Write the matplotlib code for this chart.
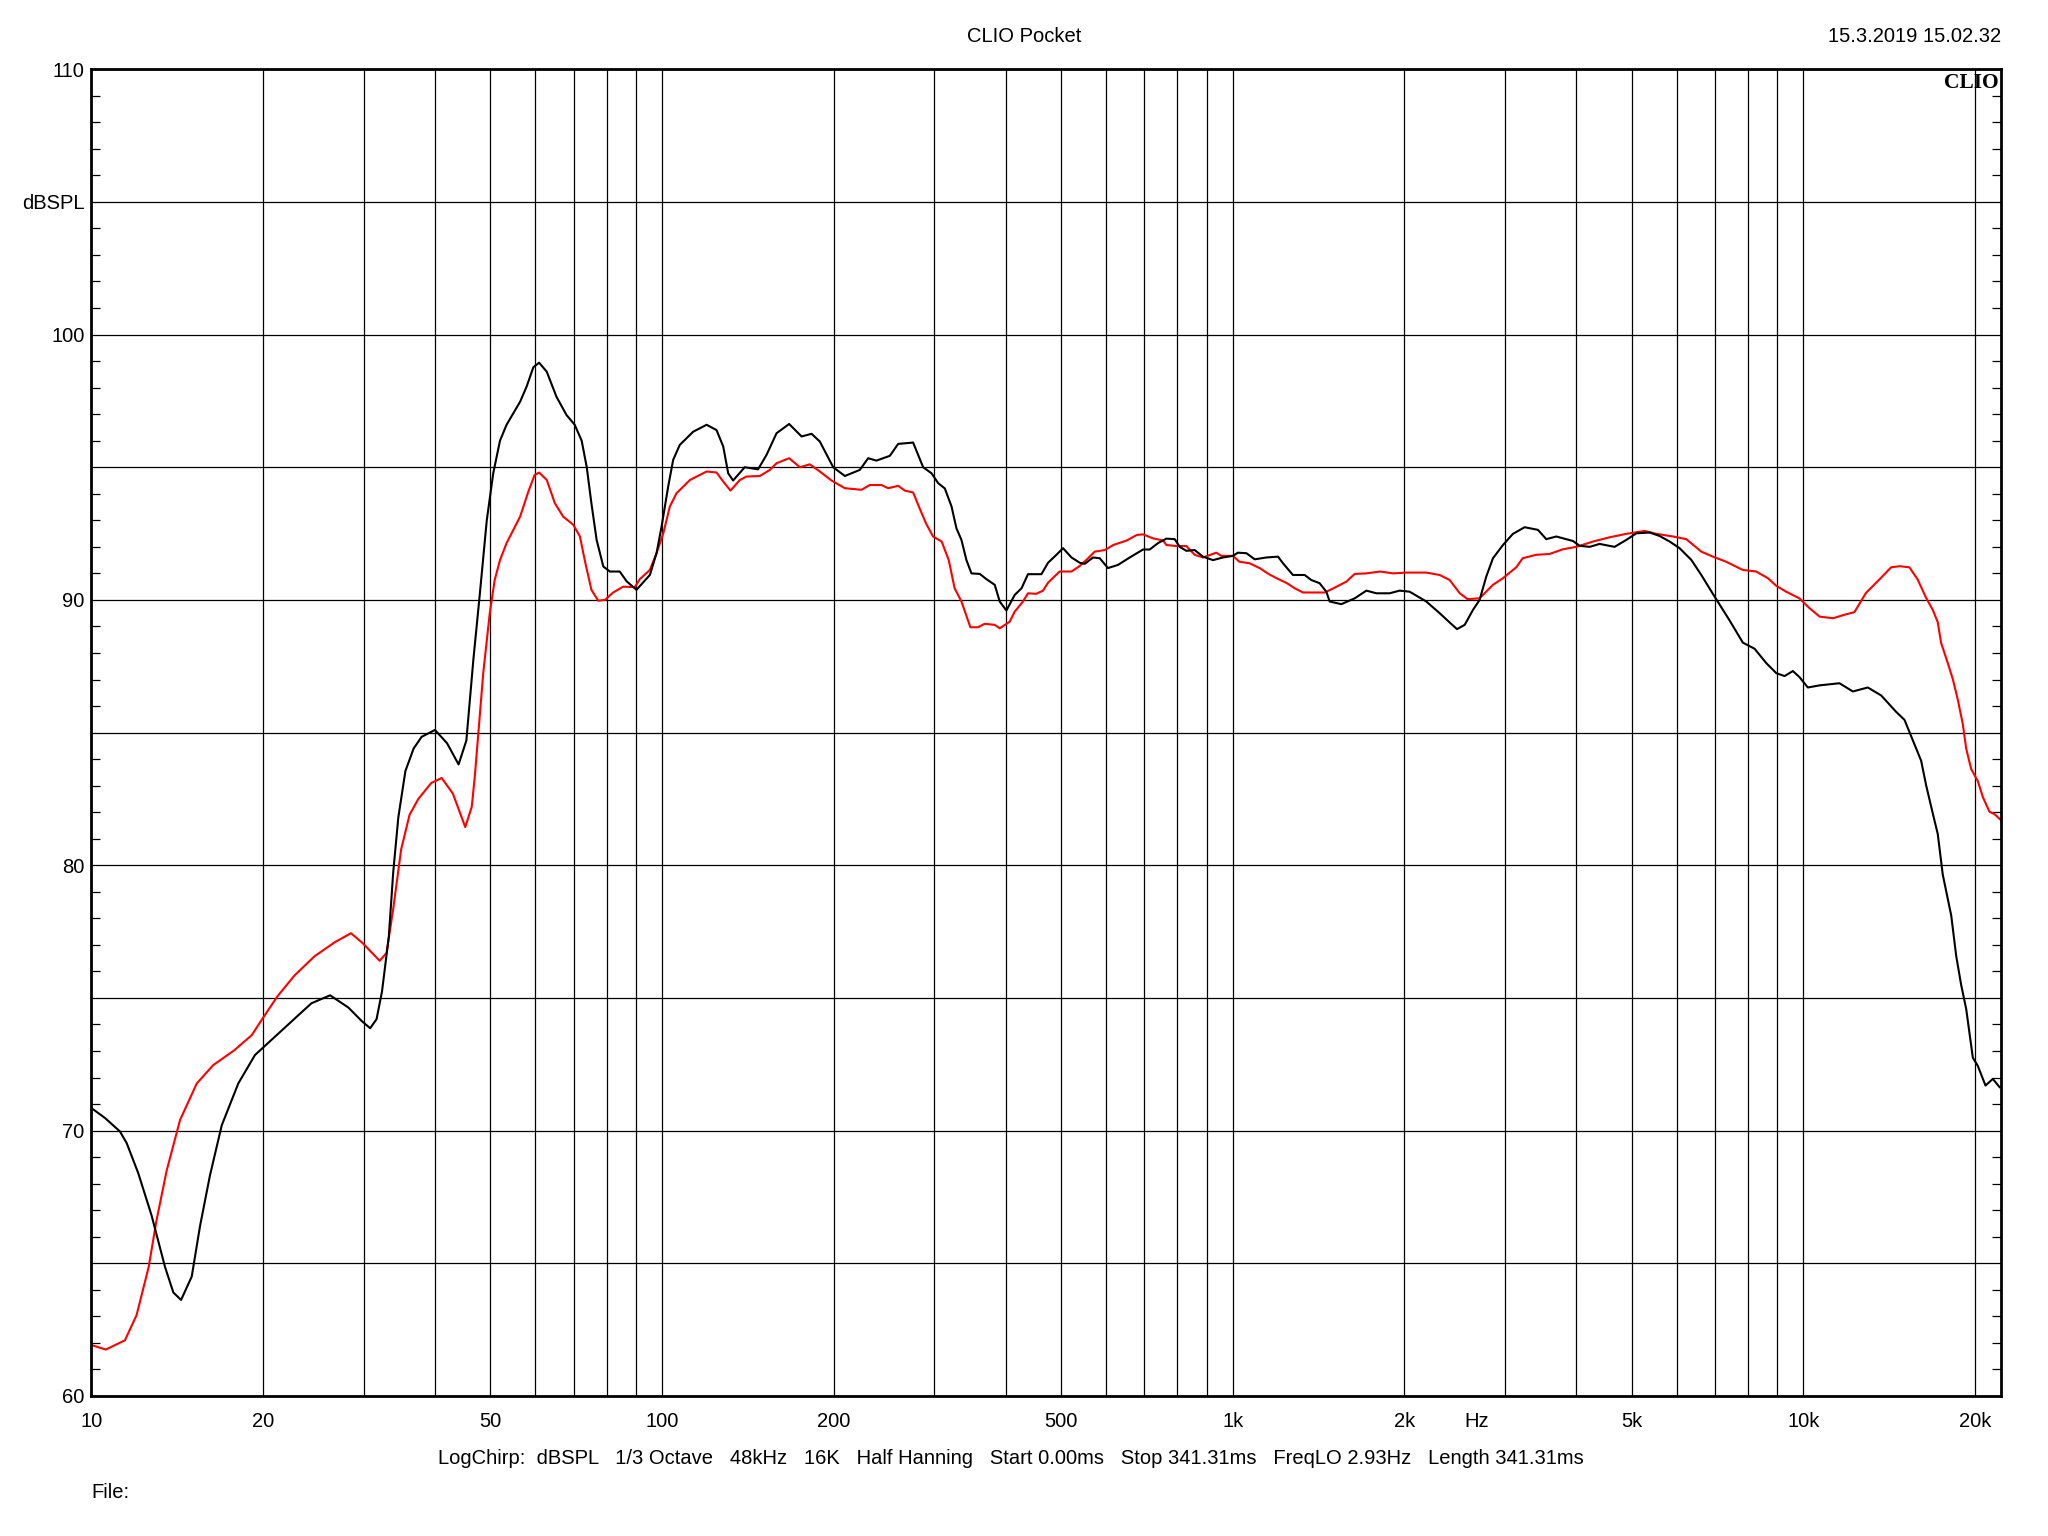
import matplotlib
matplotlib.use("Agg")
import matplotlib.pyplot as plt
from matplotlib.ticker import FixedLocator, FixedFormatter, NullFormatter

# ---------------- data ----------------
freq_black = [10.0, 10.56, 11.22, 11.53, 12.08, 12.75, 13.46, 13.92, 14.36, 14.99, 15.5, 16.13,
              16.92, 18.09, 19.35, 20.7, 22.44, 24.3, 26.2, 28.2, 29.8, 30.8, 31.6, 32.3, 33.2,
              33.8, 34.5, 35.5, 36.7, 37.9, 40.0, 42.0, 44.0, 45.4, 46.7, 47.95, 49.3, 50.6, 52.0,
              53.4, 56.4, 57.9, 59.5, 60.9, 62.8, 65.3, 68.0, 70.3, 72.3, 73.8, 75.2, 76.8, 78.9,
              81.0, 84.3, 86.7, 90.2, 95.2, 97.8, 99.8, 102.5, 104.6, 107.4, 113.4, 119.7, 124.6,
              128, 130.6, 133.2, 139.6, 147.3, 152.4, 158.7, 167, 175.6, 182.8, 189, 199.5, 209.1,
              222.1, 229.7, 237.5, 250.7, 259.3, 275.4, 286.8, 296.7, 304.7, 313, 321.6, 328, 334.7,
              341.5, 348.5, 360.4, 370.3, 382.8, 390.6, 401.3, 415, 426.6, 437.8, 462.2, 474.7, 491,
              504.3, 521.7, 539.5, 550.5, 569.2, 584.8, 604.6, 629.5, 660.1, 696.5, 715.5, 739.8,
              765.2, 791.4, 807.5, 829.5, 857.7, 887, 923.6, 961.6, 1001, 1021, 1057, 1093, 1146,
              1201, 1225, 1275, 1337, 1373, 1420, 1459, 1479, 1550, 1636, 1715, 1786, 1884, 1961,
              2042, 2184, 2305, 2400, 2472, 2550, 2636, 2708, 2782, 2858, 2976, 3098, 3248, 3427,
              3544, 3691, 3947, 4055, 4222, 4395, 4669, 4894, 5097, 5378, 5598, 5830, 6069, 6362,
              6625, 6941, 7424, 7834, 8214, 8610, 8966, 9270, 9585, 9846, 10183, 10675, 11570,
              12210, 12970, 13690, 14544, 15040, 15550, 16085, 16410, 16860, 17200, 17550, 18160,
              18530, 18900, 19290, 19550, 19815, 20218, 20855, 21480, 22070]
spl_black = [70.85, 70.48, 69.97, 69.53, 68.4, 66.8, 64.86, 63.9, 63.62, 64.5, 66.4, 68.3,
             70.2, 71.78, 72.85, 73.43, 74.12, 74.8, 75.1, 74.64, 74.12, 73.86, 74.2, 75.24, 77.3,
             79.74, 81.8, 83.55, 84.4, 84.84, 85.1, 84.6, 83.8, 84.7, 87.74, 90.25, 93.0, 94.77, 96.0,
             96.6, 97.47, 98.04, 98.77, 98.94, 98.6, 97.66, 96.97, 96.6, 96.0, 95.0, 93.64, 92.26, 91.26,
             91.07, 91.07, 90.7, 90.38, 90.94, 91.76, 92.76, 94.27, 95.28, 95.84, 96.34, 96.6, 96.4,
             95.78, 94.77, 94.5, 95.0, 94.92, 95.46, 96.28, 96.63, 96.16, 96.26, 95.97, 95.0, 94.67,
             94.9, 95.34, 95.25, 95.43, 95.88, 95.93, 95.0, 94.77, 94.4, 94.2, 93.52, 92.7, 92.26,
             91.5, 91.0, 90.98, 90.78, 90.57, 89.94, 89.6, 90.19, 90.44, 90.97, 90.97, 91.4, 91.7,
             91.95, 91.6, 91.4, 91.36, 91.6, 91.57, 91.2, 91.32, 91.6, 91.9, 91.9, 92.14,
             92.31, 92.29, 92.0, 91.85, 91.88, 91.63, 91.5, 91.6, 91.66, 91.78, 91.76, 91.53, 91.6,
             91.63, 91.38, 90.94, 90.94, 90.75, 90.63, 90.31, 89.94, 89.84, 90.06, 90.35, 90.25, 90.25, 90.35,
             90.31, 89.94, 89.5, 89.15, 88.9, 89.06, 89.62, 90.0, 90.88, 91.57, 92.07, 92.49, 92.74, 92.64,
             92.29, 92.39, 92.22, 92.04, 92.0, 92.11, 92.0, 92.26, 92.51, 92.54, 92.41, 92.2, 91.95, 91.51,
             90.94, 90.23, 89.23, 88.39, 88.16, 87.62, 87.24, 87.13, 87.32, 87.09, 86.7, 86.78, 86.86,
             86.55, 86.7, 86.4, 85.78, 85.48, 84.71, 83.94, 83.02, 81.95, 81.18, 79.65, 78.11,
             76.58, 75.5, 74.59, 73.67, 72.75, 72.44, 71.7, 71.95, 71.64]

freq_red = [10.0, 10.6, 11.45, 12.0, 12.6, 13.0, 13.55, 14.3, 15.3, 16.35, 17.8, 19.1, 20.0, 21.2,
            22.7, 24.6, 26.7, 28.5, 29.9, 32.0, 32.9, 33.8, 34.9, 36.1, 37.4, 39.4, 41.1, 43.0,
            45.2, 46.4, 47.0, 48.6, 49.9, 50.9, 52.0, 53.4, 56.4, 58.3, 59.8, 60.9, 62.8, 64.9,
            67.1, 69.9, 71.8, 73.2, 75.2, 77.3, 79.4, 82.1, 85.5, 89.6, 91.4, 95.2, 97.8, 100.5,
            103.2, 106.0, 111.9, 119.7, 124.6, 128, 131.8, 136.9, 140.6, 148.4, 154.5, 158.7, 167,
            174.4, 181.5, 189, 198.1, 209.1, 223.6, 231.2, 242.4, 249, 259.3, 266.3, 275.4, 283.5,
            290, 298.5, 309, 318, 325.6, 334.7, 347, 357.8, 367.5, 382.8, 390.6, 406.6, 415, 429,
            437.8, 452.6, 465.2, 474.7, 497.4, 521.7, 539.5, 558, 573, 597, 617.6, 652, 679.4,
            696.5, 724.9, 755, 765, 797, 829.5, 857.7, 887, 936, 955, 1001, 1027, 1071, 1117, 1155,
            1193, 1245, 1284, 1328, 1382, 1450, 1502, 1582, 1636, 1715, 1812, 1910, 2018, 2184,
            2305, 2400, 2500, 2580, 2708, 2858, 2976, 3140, 3222, 3400, 3590, 3792, 4000, 4280,
            4575, 4894, 5270, 5524, 5910, 6235, 6625, 6941, 7322, 7834, 8267, 8665, 8965, 9330,
            9840, 10250, 10680, 11280, 11710, 12290, 12870, 13690, 14250, 14750, 15340, 15860,
            16410, 16860, 17200, 17430, 17910, 18280, 18650, 19030, 19290, 19680, 20218, 20640,
            21190, 21640, 22150]
spl_red = [61.92, 61.75, 62.1, 63.05, 64.86, 66.6, 68.5, 70.4, 71.78, 72.47, 73.03, 73.6, 74.26, 75.07,
           75.85, 76.57, 77.1, 77.44, 77.06, 76.4, 76.7, 78.36, 80.6, 81.9, 82.5, 83.1, 83.29, 82.7,
           81.44, 82.2, 83.4, 87.24, 89.5, 90.75, 91.5, 92.14, 93.14, 94.08, 94.71, 94.8, 94.52, 93.64,
           93.14, 92.83, 92.39, 91.5, 90.38, 89.97, 90.0, 90.28, 90.5, 90.48, 90.78, 91.13, 91.76, 92.51,
           93.52, 94.02, 94.52, 94.84, 94.8, 94.46, 94.12, 94.52, 94.65, 94.67, 94.9, 95.15, 95.34,
           95.0, 95.11, 94.84, 94.5, 94.21, 94.15, 94.33, 94.33, 94.21, 94.3, 94.12, 94.05, 93.39,
           92.89, 92.39, 92.2, 91.5, 90.44, 89.94, 88.97, 88.97, 89.1, 89.06, 88.93, 89.18, 89.56, 89.94,
           90.25, 90.23, 90.35, 90.65, 91.07, 91.07, 91.28, 91.57, 91.82, 91.88, 92.07, 92.24, 92.45,
           92.47, 92.32, 92.24, 92.07, 92.03, 92.03, 91.7, 91.6, 91.78, 91.66, 91.66, 91.44, 91.38, 91.19, 90.98,
           90.82, 90.63, 90.44, 90.28, 90.28, 90.28, 90.44, 90.69, 90.98, 91.0, 91.07, 91.0, 91.03, 91.03,
           90.94, 90.75, 90.25, 90.03, 90.06, 90.57, 90.82, 91.23, 91.57, 91.7, 91.73, 91.91, 92.0, 92.2,
           92.36, 92.49, 92.6, 92.49, 92.39, 92.29, 91.82, 91.63, 91.44, 91.13, 91.07, 90.82, 90.53, 90.31,
           90.06, 89.69, 89.37, 89.31, 89.42, 89.54, 90.26, 90.84, 91.23, 91.27, 91.23, 90.77,
           90.08, 89.62, 89.16, 88.39, 87.62, 87.01, 86.24, 85.32, 84.4, 83.63, 83.17, 82.56,
           82.02, 81.92, 81.72]

x_grid = [10, 20, 30, 40, 50, 60, 70, 80, 90,
          100, 200, 300, 400, 500, 600, 700, 800, 900,
          1000, 2000, 3000, 4000, 5000, 6000, 7000, 8000, 9000,
          10000, 20000]
x_labels = {10: "10", 20: "20", 50: "50", 100: "100", 200: "200", 500: "500",
            1000: "1k", 2000: "2k", 5000: "5k", 10000: "10k", 20000: "20k"}
y_grid = [60, 65, 70, 75, 80, 85, 90, 95, 100, 105, 110]
y_labels = {60: "60", 70: "70", 80: "80", 90: "90", 100: "100", 105: "dBSPL", 110: "110"}

title_text = "CLIO Pocket"
date_text = "15.3.2019 15.02.32"
info_text = ("LogChirp:  dBSPL   1/3 Octave   48kHz   16K   Half Hanning   Start 0.00ms   "
             "Stop 341.31ms   FreqLO 2.93Hz   Length 341.31ms")

# ---------------- figure ----------------
plt.rcParams['font.family'] = ['Liberation Sans', 'DejaVu Sans']
FS = 14.5
W, H = 2048, 1536
fig = plt.figure(figsize=(W / 100, H / 100), dpi=100)
left, right, top, bottom = 91.4, 2001, 69.2, 1396
ax = fig.add_axes([left / W, 1 - bottom / H, (right - left) / W, (bottom - top) / H])

ax.set_xscale('log')
ax.set_xlim(10, 22200)
ax.set_ylim(60, 110)

# grid
for f in x_grid:
    ax.axvline(f, color='black', lw=0.9, zorder=1)
for v in y_grid:
    ax.axhline(v, color='black', lw=0.9, zorder=1)

ax.plot(freq_red, spl_red, color='#ff0000', lw=1.5, zorder=3)
ax.plot(freq_black, spl_black, color='black', lw=1.5, zorder=4)

# ticks
XPAD = 11.5
ax.xaxis.set_major_locator(FixedLocator(x_grid))
ax.xaxis.set_major_formatter(FixedFormatter([x_labels.get(f, "") for f in x_grid]))
ax.xaxis.set_minor_locator(FixedLocator([]))
ax.xaxis.set_minor_formatter(NullFormatter())
ax.yaxis.set_major_locator(FixedLocator(y_grid))
ax.yaxis.set_major_formatter(FixedFormatter([y_labels.get(v, "") for v in y_grid]))
ax.yaxis.set_minor_locator(FixedLocator([v for v in range(60, 111) if v % 5 != 0]))
ax.tick_params(axis='x', which='major', length=0, pad=XPAD, labelsize=FS)
ax.tick_params(axis='y', which='major', length=0, pad=5, labelsize=FS)
ax.tick_params(axis='y', which='minor', direction='in', length=6.5, width=0.9,
               left=True, right=True)

for s in ax.spines.values():
    s.set_linewidth(2.0)
    s.set_zorder(5)

# Hz unit label on the x axis, aligned with the tick labels
hz_off = XPAD * 100 / 72 / (bottom - top)
ax.text(2680, -hz_off, "Hz", transform=ax.get_xaxis_transform(), ha='center', va='top',
        fontsize=FS)

# CLIO logo
ax.text(0.9985, 0.997, "CLIO", transform=ax.transAxes, ha='right', va='top',
        fontsize=15.5, fontweight='bold', family=['Liberation Serif', 'DejaVu Serif'], zorder=6)

fig.text(0.5, 1 - 36 / H, title_text, ha='center', va='center', fontsize=FS)
fig.text(right / W, 1 - 36 / H, date_text, ha='right', va='center', fontsize=FS)
fig.text(1011 / W, 1 - 1458 / H, info_text, ha='center', va='center', fontsize=FS)
fig.text(left / W, 1 - 1492 / H, "File:", ha='left', va='center', fontsize=FS)

fig.savefig("out.png", dpi=100, facecolor='white')
